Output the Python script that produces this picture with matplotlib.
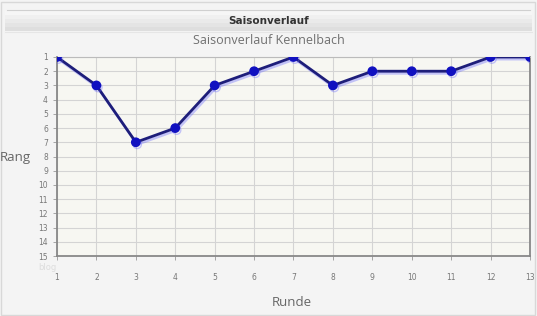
import matplotlib
matplotlib.use("Agg")
import matplotlib.pyplot as plt
from matplotlib.patches import Rectangle
import matplotlib.patheffects as pe

rounds = list(range(1, 14))
ranks = [1, 3, 7, 6, 3, 2, 1, 3, 2, 2, 2, 1, 1]
y_ticks = list(range(1, 16))
header_title = "Saisonverlauf"
chart_title = "Saisonverlauf Kennelbach"
x_label = "Runde"
y_label = "Rang"

W, H = 537, 316
fig = plt.figure(figsize=(W / 100, H / 100), dpi=100)
fig.patch.set_facecolor("#f4f4f4")

# outer frame
fig.add_artist(Rectangle((1 / W, 1 / H), (W - 3) / W, (H - 3) / H, transform=fig.transFigure,
                         facecolor="none", edgecolor="#d8d8d8", lw=1.0))
# header band (gradient-like)
cols = ["#f6f6f6", "#f0f0f0", "#eaeaea", "#e4e4e4", "#dedede"]
for i, c in enumerate(cols):
    y0 = 1 - (11 + (i + 1) * 4) / H
    fig.add_artist(Rectangle((5 / W, y0), (W - 10) / W, 4 / H, transform=fig.transFigure,
                             facecolor=c, edgecolor="none"))
fig.add_artist(plt.Line2D([7 / W, (W - 7) / W], [1 - 10 / H, 1 - 10 / H], transform=fig.transFigure,
                          color="#d0d0d0", lw=0.8))
fig.add_artist(plt.Line2D([5 / W, (W - 5) / W], [1 - 32 / H, 1 - 32 / H], transform=fig.transFigure,
                          color="#e6e6e6", lw=0.8))
fig.text(0.5, 1 - 21 / H, header_title, ha="center", va="center", fontsize=7.5,
         fontweight="bold", color="#333333", family="DejaVu Sans")
fig.text(0.5, 1 - 41 / H, chart_title, ha="center", va="center", fontsize=9,
         color="#707070", family="Open Sans")

ax = fig.add_axes([57 / W, 1 - 256 / H, (530 - 57) / W, (256 - 57) / H])
ax.set_facecolor("#f7f7f2")
ax.plot(rounds, ranks, color="#1e1e7a", lw=2.0, marker="o", markersize=6,
        markerfacecolor="#1010c0", markeredgecolor="#1010c0", zorder=3,
        path_effects=[pe.SimpleLineShadow(offset=(1, -1.5), shadow_color="#6060ff", alpha=0.35),
                      pe.Normal()])
ax.set_xlim(1, 13)
ax.set_ylim(15, 1)
ax.set_xticks(rounds)
ax.set_yticks(y_ticks)
ax.tick_params(axis="both", labelsize=5.5, colors="#999999", labelcolor="#777777",
               length=3, width=0.6)
ax.tick_params(axis="x", pad=9)
ax.grid(True, color="#d4d4d4", lw=0.8)
ax.set_axisbelow(True)
for s in ["left", "bottom", "right"]:
    ax.spines[s].set_color("#888888")
    ax.spines[s].set_linewidth(1.3)
ax.spines["top"].set_color("#bbbbbb")
ax.spines["top"].set_linewidth(0.8)

fig.text(15 / W, 1 - 157 / H, y_label, ha="center", va="center", fontsize=9.5,
         color="#666666", family="Open Sans")
fig.text(292 / W, 1 - 302 / H, x_label, ha="center", va="center", fontsize=9.5,
         color="#666666", family="Open Sans")
fig.text(47 / W, 1 - 268 / H, "blog", ha="center", va="center", fontsize=6,
         color="#dddddd", family="DejaVu Sans")

fig.savefig("out.png", dpi=100, facecolor=fig.get_facecolor())
